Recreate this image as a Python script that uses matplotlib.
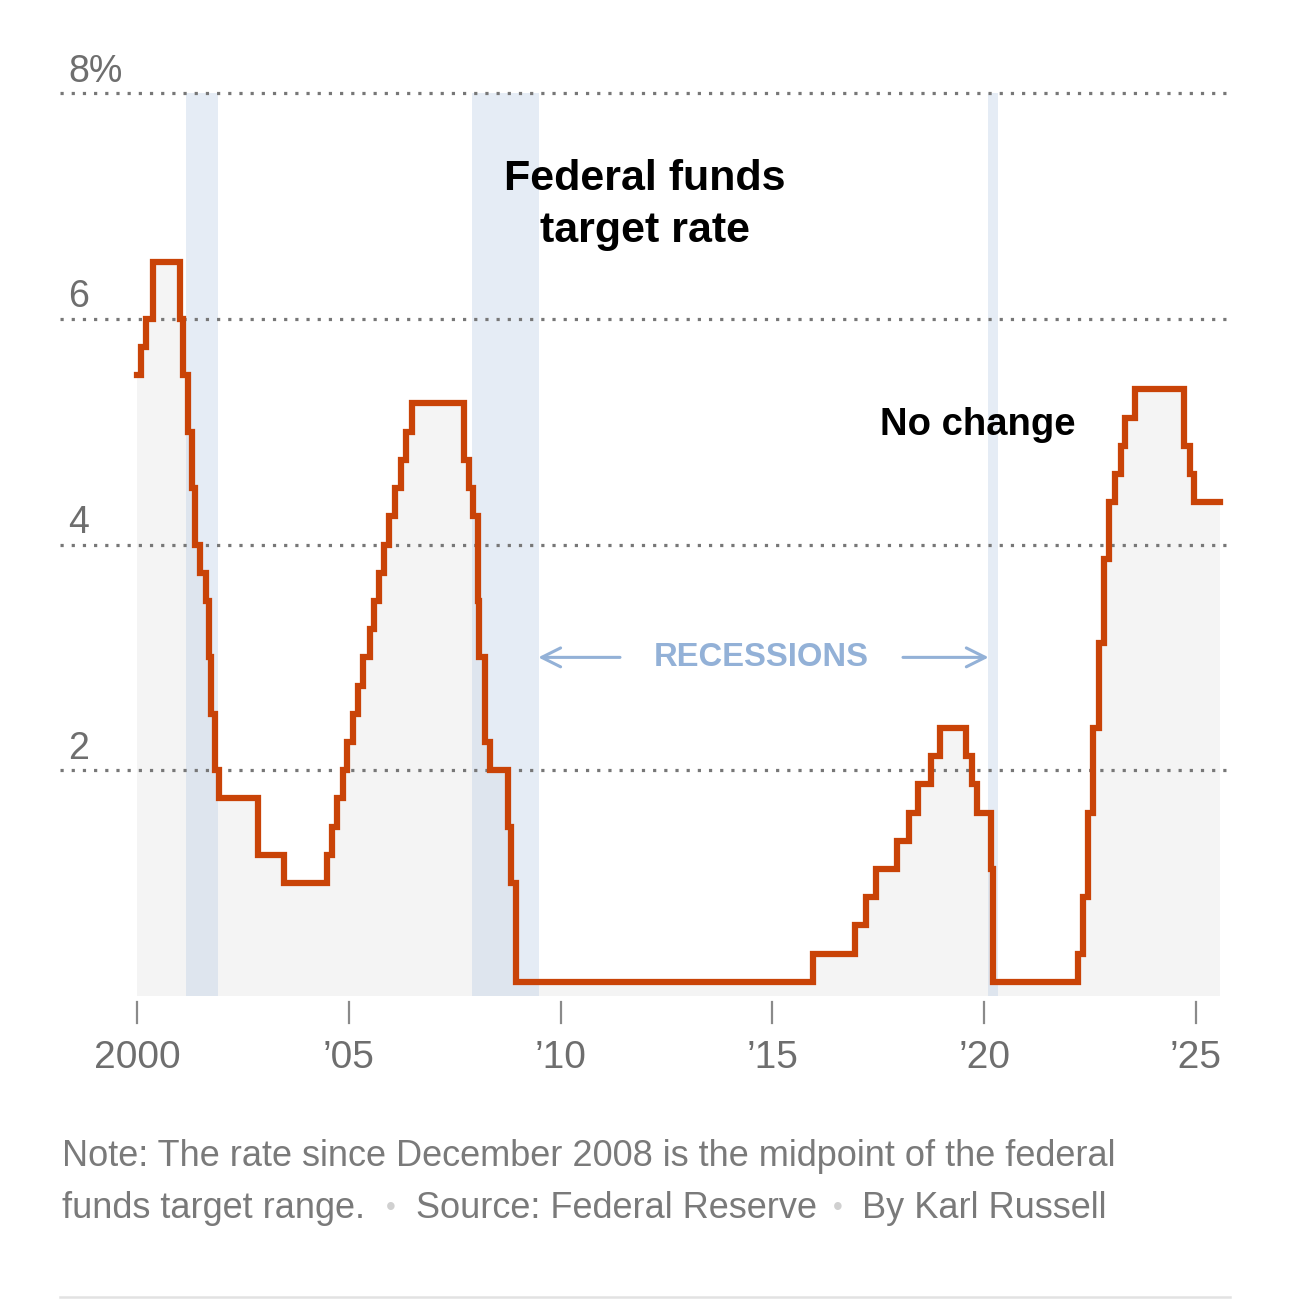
import matplotlib
matplotlib.use('Agg')
import matplotlib.pyplot as plt
import pandas as pd
import numpy as np

# ── data ──────────────────────────────────────────────────────────────────
change_dates = [
    '2000-01-01', '2000-02-02', '2000-03-21', '2000-05-16',
    '2001-01-03', '2001-01-31', '2001-03-20', '2001-04-18', '2001-05-15',
    '2001-06-27', '2001-08-21', '2001-09-17', '2001-10-02', '2001-11-06',
    '2001-12-11', '2002-11-06', '2003-06-25',
    '2004-06-30', '2004-08-10', '2004-09-21', '2004-11-10', '2004-12-14',
    '2005-02-02', '2005-03-22', '2005-05-03', '2005-06-30', '2005-08-09',
    '2005-09-20', '2005-11-01', '2005-12-13', '2006-01-31', '2006-03-28',
    '2006-05-10', '2006-06-29',
    '2007-09-18', '2007-10-31', '2007-12-11', '2008-01-22', '2008-01-30',
    '2008-03-18', '2008-04-30', '2008-10-08', '2008-10-29', '2008-12-16',
    '2015-12-16', '2016-12-14', '2017-03-15', '2017-06-14', '2017-12-13',
    '2018-03-21', '2018-06-13', '2018-09-26', '2018-12-19',
    '2019-07-31', '2019-09-18', '2019-10-30', '2020-03-03', '2020-03-15',
    '2022-03-16', '2022-05-04', '2022-06-15', '2022-07-27', '2022-09-21',
    '2022-11-02', '2022-12-14', '2023-02-01', '2023-03-22', '2023-05-03',
    '2023-07-26', '2024-09-18', '2024-11-07', '2024-12-18', '2025-07-25',
]
rates = [
    5.50, 5.75, 6.00, 6.50,
    6.00, 5.50, 5.00, 4.50, 4.00,
    3.75, 3.50, 3.00, 2.50, 2.00,
    1.75, 1.25, 1.00,
    1.25, 1.50, 1.75, 2.00, 2.25,
    2.50, 2.75, 3.00, 3.25, 3.50,
    3.75, 4.00, 4.25, 4.50, 4.75,
    5.00, 5.25,
    4.75, 4.50, 4.25, 3.50, 3.00,
    2.25, 2.00, 1.50, 1.00, 0.125,
    0.375, 0.625, 0.875, 1.125, 1.375,
    1.625, 1.875, 2.125, 2.375,
    2.125, 1.875, 1.625, 1.125, 0.125,
    0.375, 0.875, 1.625, 2.375, 3.125,
    3.875, 4.375, 4.625, 4.875, 5.125,
    5.375, 4.875, 4.625, 4.375, 4.375,
]
recession_starts = ['2001-03-01', '2007-12-01', '2020-02-01']
recession_ends = ['2001-11-30', '2009-06-30', '2020-04-30']
y_ticks = [2, 4, 6, 8]
y_tick_labels = ['2', '4', '6', '8%']
x_ticks = [2000, 2005, 2010, 2015, 2020, 2025]
x_tick_labels = ['2000', '\u201905', '\u201910', '\u201915', '\u201920', '\u201925']


def to_year(s):
    d = pd.Timestamp(s)
    n = 366 if d.is_leap_year else 365
    return d.year + (d.dayofyear - 1) / n


xs = np.array([to_year(d) for d in change_dates])
ys = np.array(rates)
rec_s = [to_year(d) for d in recession_starts]
rec_e = [to_year(d) for d in recession_ends]

# ── figure ────────────────────────────────────────────────────────────────
W, H = 1290, 1302
fig = plt.figure(figsize=(W / 100, H / 100), dpi=100, facecolor='white')
plt.rcParams['font.family'] = ['Liberation Sans', 'DejaVu Sans']

px_per_yr = (1196 - 137) / 25
x_lo = 2000 - (137 - 60) / px_per_yr
x_hi = 2000 + (1230 - 137) / px_per_yr
px_per_pt = (996 - 93) / 8
y_top = 8 + (93 - 80) / px_per_pt

ax = fig.add_axes([60 / W, (H - 996) / H, (1230 - 60) / W, (996 - 80) / H])
ax.set_xlim(x_lo, x_hi)
ax.set_ylim(0, y_top)
ax.axis('off')

# gray area under the rate
ax.fill_between(xs, ys, 0, step='post', color='#f4f4f4', lw=0, zorder=1)

# recession bands
for s, e in zip(rec_s, rec_e):
    ax.axvspan(s, e, ymin=0, ymax=8 / y_top, color='#b9cde6', alpha=0.36,
               lw=0, zorder=2)

# dotted gridlines
for v in y_ticks:
    ax.plot([x_lo, x_hi], [v, v], color='#777777', lw=2.3,
            linestyle=(0, (1, 2.5)), dash_capstyle='butt', zorder=3)

for v, lab in zip(y_ticks, y_tick_labels):
    ax.text(x_lo + 8 / px_per_yr, v + 0.1, lab, fontsize=27, color='#6e6e6e',
            ha='left', va='baseline', zorder=4)

# rate line
ax.step(xs, ys, where='post', color='#c94307', lw=4.5, zorder=5,
        solid_joinstyle='miter')

# x ticks
for v, lab in zip(x_ticks, x_tick_labels):
    ax.plot([v, v], [-6 / px_per_pt, -27 / px_per_pt], color='#8a8a8a',
            lw=1.6, clip_on=False)
    ax.text(v, -72 / px_per_pt, lab, fontsize=28, color='#6e6e6e',
            ha='center', va='baseline')

# annotations
ax.text(2000 + (645 - 137) / px_per_yr, (996 - 205) / px_per_pt,
        'Federal funds\ntarget rate', fontsize=31, fontweight='bold',
        color='black', ha='center', va='center', linespacing=1.38, zorder=6)
ax.text(2000 + (978 - 137) / px_per_yr, (996 - 425) / px_per_pt,
        'No change', fontsize=27.5, fontweight='bold', color='black',
        ha='center', va='center', zorder=6)

rec_col = '#93b1d7'
ax.text(2000 + (761 - 137) / px_per_yr, 3.0, 'RECESSIONS', fontsize=23.6,
        fontweight='bold', color=rec_col, ha='center', va='center', zorder=6)
ax.annotate('', xy=(rec_e[1] - 0.02, 3.0),
            xytext=(2000 + (620 - 137) / px_per_yr, 3.0),
            arrowprops=dict(arrowstyle='->', color=rec_col, lw=2.2,
                            mutation_scale=34, shrinkA=0, shrinkB=0), zorder=6)
ax.annotate('', xy=(rec_s[2] + 0.02, 3.0),
            xytext=(2000 + (903 - 137) / px_per_yr, 3.0),
            arrowprops=dict(arrowstyle='->', color=rec_col, lw=2.2,
                            mutation_scale=34, shrinkA=0, shrinkB=0), zorder=6)

# footer
note_col = '#7a7a7a'
fs_note = 26
fig.text(62 / W, 1 - 1157 / H,
         'Note: The rate since December 2008 is the midpoint of the federal',
         fontsize=fs_note, color=note_col, ha='left', va='center')
fig.text(62 / W, 1 - 1208 / H, 'funds target range.', fontsize=fs_note,
         color=note_col, ha='left', va='center')
fig.text(391 / W, 1 - 1208 / H, '\u2022', fontsize=20, color='#d0d0d0',
         ha='center', va='center')
fig.text(416 / W, 1 - 1208 / H, 'Source: Federal Reserve', fontsize=fs_note,
         color=note_col, ha='left', va='center')
fig.text(838 / W, 1 - 1208 / H, '\u2022', fontsize=20, color='#d0d0d0',
         ha='center', va='center')
fig.text(862 / W, 1 - 1208 / H, 'By Karl Russell', fontsize=fs_note,
         color=note_col, ha='left', va='center')
fig.add_artist(plt.Line2D([60 / W, 1230 / W], [1 - 1297 / H, 1 - 1297 / H],
                          color='#e2e2e2', lw=1.8))

fig.savefig('out.png', dpi=100, facecolor='white')
